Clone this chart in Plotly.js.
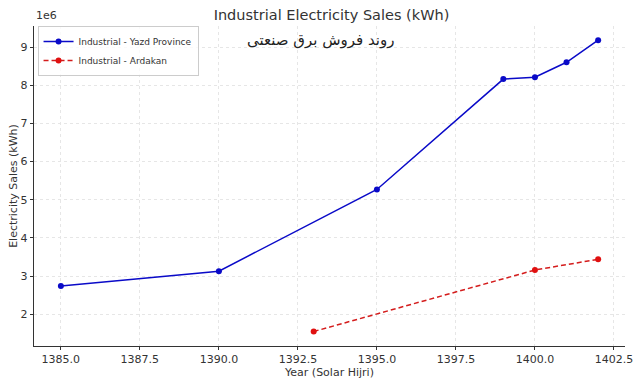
<!DOCTYPE html>
<html>
<head>
<meta charset="utf-8">
<script src="https://cdn.plot.ly/plotly-3.0.1.min.js"></script>
<style>html,body{margin:0;padding:0;background:#fff}#chart{width:640px;height:384px}</style>
</head>
<body>
<div id="chart"></div>
<script>
const yazdYears = [1385, 1390, 1395, 1399, 1400, 1401, 1402];
const yazdSales = [2.74e6, 3.13e6, 5.27e6, 8.16e6, 8.21e6, 8.60e6, 9.18e6];
const ardakanYears = [1393, 1400, 1402];
const ardakanSales = [1.55e6, 3.16e6, 3.44e6];
const xTicks = [1385, 1387.5, 1390, 1392.5, 1395, 1397.5, 1400, 1402.5];
const xTickText = ['1385.0','1387.5','1390.0','1392.5','1395.0','1397.5','1400.0','1402.5'];
const yTicks = [2e6, 3e6, 4e6, 5e6, 6e6, 7e6, 8e6, 9e6];
const yTickText = ['2','3','4','5','6','7','8','9'];

const font = 'DejaVu Sans, sans-serif';
const traces = [
  {x: yazdYears, y: yazdSales, name: 'Industrial - Yazd Province', mode: 'lines+markers',
   line: {color: '#0a0ac8', width: 1.5}, marker: {color: '#0a0ac8', size: 6}},
  {x: ardakanYears, y: ardakanSales, name: 'Industrial - Ardakan', mode: 'lines+markers',
   line: {color: '#d41c1c', width: 1.5, dash: '5px,3px'}, marker: {color: '#e01010', size: 6}}
];
const layout = {
  width: 640, height: 384,
  margin: {l: 34, r: 15, t: 26, b: 38},
  paper_bgcolor: '#fff', plot_bgcolor: '#fff',
  font: {family: font, color: '#333', size: 11},
  title: {text: 'Industrial Electricity Sales (kWh)', x: 0.518, xanchor: 'center', y: 0.96, yanchor: 'middle', font: {size: 14.5, color: '#333'}},
  showlegend: true,
  legend: {x: 0.006, y: 1.0, xanchor: 'left', yanchor: 'top', bgcolor: 'rgba(255,255,255,0.8)', bordercolor: '#ccc', borderwidth: 1, font: {size: 9, color: '#333'}, tracegroupgap: 0, itemwidth: 30},
  xaxis: {range: [1384.15, 1402.85], tickvals: xTicks, ticktext: xTickText, showgrid: true, gridcolor: '#e6e6e6', griddash: 'dot', gridwidth: 1,
    zeroline: false, showline: true, linecolor: '#333', linewidth: 1.2, ticks: 'outside', ticklen: 3, tickcolor: '#333',
    title: {text: 'Year (Solar Hijri)', font: {size: 11}, standoff: 0}},
  yaxis: {range: [1.17e6, 9.55e6], tickvals: yTicks, ticktext: yTickText, showgrid: true, gridcolor: '#e6e6e6', griddash: 'dot', gridwidth: 1,
    zeroline: false, showline: true, linecolor: '#333', linewidth: 1.2, ticks: 'outside', ticklen: 3, tickcolor: '#333',
    title: {text: 'Electricity Sales (kWh)', font: {size: 11}, standoff: 0}},
  annotations: [
    {text: '1e6', xref: 'paper', yref: 'paper', x: 0, y: 1, xanchor: 'left', yanchor: 'bottom', showarrow: false, font: {size: 11, color: '#333'}, yshift: 2},
    {text: 'روند فروش برق صنعتی', xref: 'paper', yref: 'paper', x: 0.485, y: 0.955, xanchor: 'center', yanchor: 'middle', showarrow: false, font: {size: 15, color: '#222', family: 'DejaVu Sans, sans-serif'}}
  ]
};
Plotly.newPlot('chart', traces, layout, {displayModeBar: false, staticPlot: true});
</script>
</body>
</html>
